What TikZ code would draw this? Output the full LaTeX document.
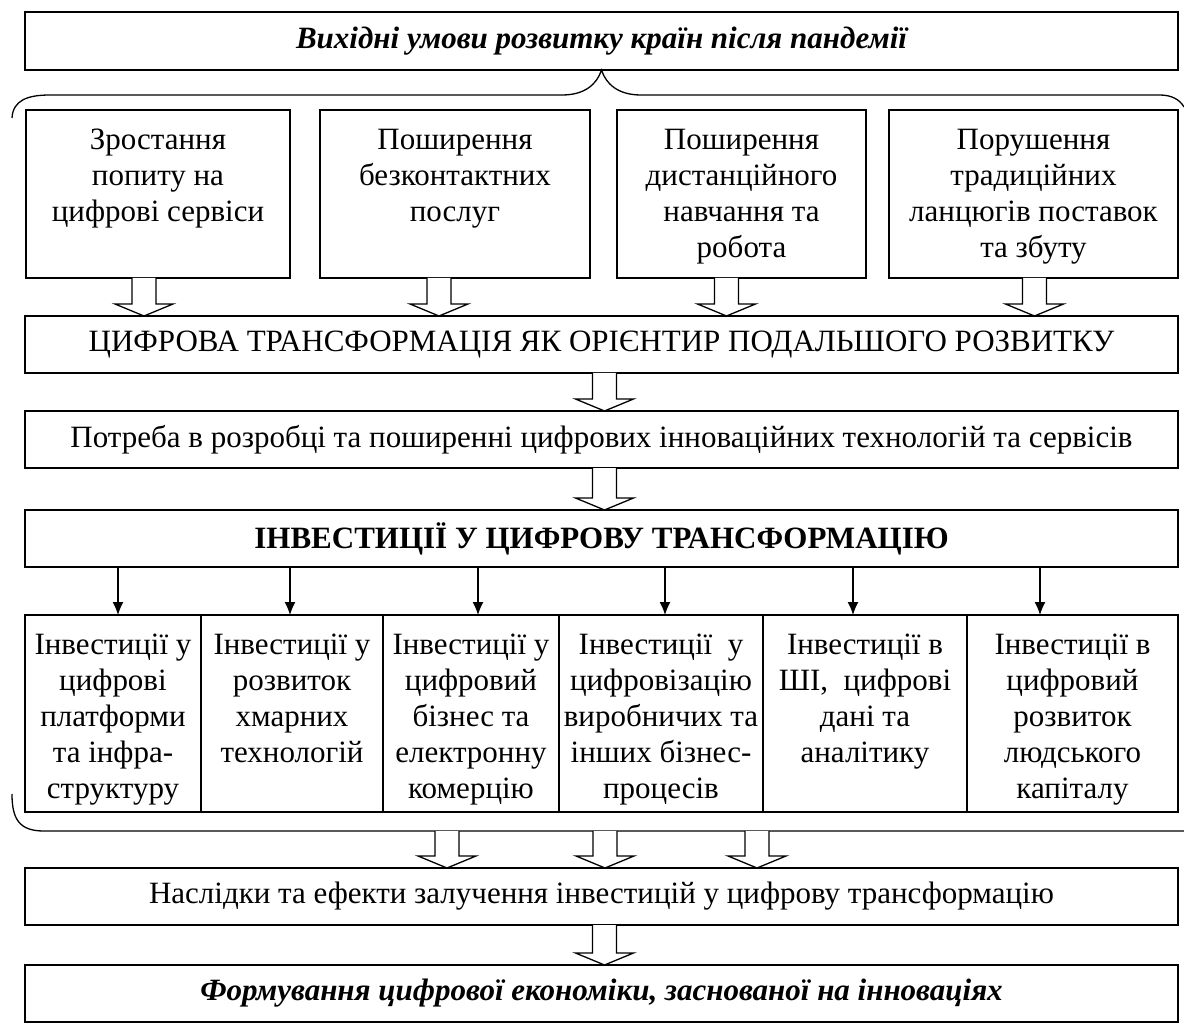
\documentclass[tikz,border=0pt]{standalone}
\usepackage{fontspec}
\setmainfont{Liberation Serif}
\usetikzlibrary{arrows.meta, positioning, calc}
\tikzstyle{block} = [draw, fill=white, rectangle, line width=1.3pt, inner sep=0pt, outer sep=0pt, anchor=north west, font=\fontsize{31}{36}\selectfont]
\tikzstyle{wide} = [block, minimum width=1153pt, minimum height=57pt]
\tikzstyle{cellbox} = [block, inner ysep=14pt]
\tikzstyle{hollow} = [draw, fill=white, line width=1.3pt, line join=miter]
\newcommand{\boxtext}[3]{\parbox[c][#2][t]{#1}{\centering\strut #3}}
\newcommand{\bigarrow}[2]{\draw[hollow] let \p1=(#1), \p2=(#2) in
  (\x1-12pt,\y1) -- (\x1-12pt,\y2+12pt) -- (\x1-29pt,\y2+12pt) -- (\x1,\y2)
  -- (\x1+29pt,\y2+12pt) -- (\x1+12pt,\y2+12pt) -- (\x1+12pt,\y1);}

\begin{document}
\begin{tikzpicture}[x=1pt, y=-1pt, >={Latex[length=13pt,width=11pt]}]
  \useasboundingbox (0,0) rectangle (1184,1024);
  \node[wide, minimum height=58pt, font=\fontsize{31}{36}\selectfont\bfseries\itshape] (origin) at (25,12) {Вихідні умови розвитку країн після пандемії};
  \node[cellbox] (growth) at (26,110) {\boxtext{264pt}{140pt}{Зростання\\попиту на\\цифрові сервіси}};
  \node[cellbox] (contactless) at (320,110) {\boxtext{270pt}{140pt}{Поширення\\безконтактних\\послуг}};
  \node[cellbox] (remote) at (617,110) {\boxtext{249pt}{140pt}{Поширення\\дистанційного\\навчання та\\робота}};
  \node[cellbox] (supply) at (889,110) {\boxtext{289pt}{140pt}{Порушення\\традиційних\\ланцюгів поставок\\та збуту}};
  \node[wide] (digital) at (25,316) {ЦИФРОВА ТРАНСФОРМАЦІЯ ЯК ОРІЄНТИР ПОДАЛЬШОГО РОЗВИТКУ};
  \node[wide] (need) at (25,411) {Потреба в розробці та поширенні цифрових інноваційних технологій та сервісів};
  \node[wide, font=\fontsize{31}{36}\selectfont\bfseries] (invest) at (25,510) {ІНВЕСТИЦІЇ У ЦИФРОВУ ТРАНСФОРМАЦІЮ};
  \node[cellbox] (c1) at (25,615) {\boxtext{176pt}{169pt}{Інвестиції у\\цифрові\\платформи\\та інфра-\\структуру}};
  \node[cellbox, right=0pt of c1] (c2) {\boxtext{182pt}{169pt}{Інвестиції у\\розвиток\\хмарних\\технологій}};
  \node[cellbox, right=0pt of c2] (c3) {\boxtext{176pt}{169pt}{Інвестиції у\\цифровий\\бізнес та\\електронну\\комерцію}};
  \node[cellbox, right=0pt of c3] (c4) {\boxtext{204pt}{169pt}{Інвестиції~ у\\цифровізацію\\виробничих та\\інших бізнес-\\процесів}};
  \node[cellbox, right=0pt of c4] (c5) {\boxtext{204pt}{169pt}{Інвестиції в\\ШІ,~ цифрові\\дані та\\аналітику}};
  \node[cellbox, right=0pt of c5] (c6) {\boxtext{211pt}{169pt}{Інвестиції в\\цифровий\\розвиток\\людського\\капіталу}};
  \node[wide] (effects) at (25,868) {Наслідки та ефекти залучення інвестицій у цифрову трансформацію};
  \node[wide, font=\fontsize{31}{36}\selectfont\bfseries\itshape] (result) at (25,965) {Формування цифрової економіки, заснованої на інноваціях};

  \draw[line width=1.3pt] (12,118) .. controls (13,100) and (28,95) .. (50,95) -- (562,95)
    .. controls (585,95) and (597,84) .. (origin.south) .. controls (606,84) and (618,95) .. (641,95)
    -- (1160,95) .. controls (1172,95) and (1180,100) .. (1184,107);
  \draw[line width=1.3pt] (12,794) .. controls (12,820) and (20,831) .. (44,831) -- (1184,831);
  \coordinate (b1) at (447,831);
  \coordinate (b2) at (605,831);
  \coordinate (b3) at (757,831);

  \bigarrow{[xshift=-14pt]growth.south}{digital.north}
  \bigarrow{[xshift=-16pt]contactless.south}{digital.north}
  \bigarrow{[xshift=-15pt]remote.south}{digital.north}
  \bigarrow{[xshift=1pt]supply.south}{digital.north}
  \bigarrow{[xshift=3pt]digital.south}{need.north}
  \bigarrow{[xshift=3pt]need.south}{invest.north}
  \foreach \j in {1,2,3} {\bigarrow{b\j}{effects.north}}
  \bigarrow{[xshift=3pt]effects.south}{result.north}

  \foreach \i/\x in {1/118,2/290,3/478,4/665,5/853,6/1040} {
    \coordinate (a\i) at (\x,0);
    \draw[->, line width=1.3pt] (invest.south -| a\i) -- (c\i.north -| a\i);
  }
\end{tikzpicture}
\end{document}
